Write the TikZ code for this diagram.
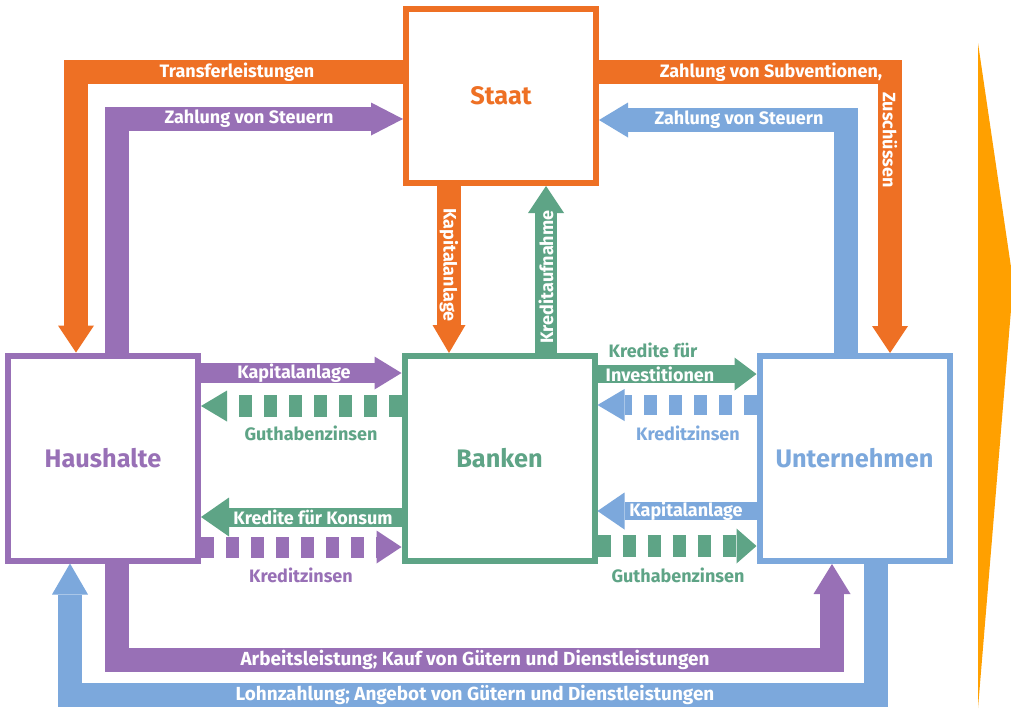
\documentclass[tikz,border=0pt]{standalone}
\usepackage{fontspec}
\setmainfont{Fira Sans}
\usetikzlibrary{arrows.meta}
\definecolor{cOr}{RGB}{238,112,36}
\definecolor{cPu}{RGB}{152,112,182}
\definecolor{cGr}{RGB}{94,164,134}
\definecolor{cBl}{RGB}{124,168,220}
\definecolor{cWe}{RGB}{255,160,0}
\tikzset{
  box/.style={draw=#1, line width=4.5pt, minimum width=142.5pt, minimum height=153.75pt,
    inner sep=0pt, text=#1, font=\bfseries\fontsize{19}{22}\selectfont},
  lbl/.style={text=white, inner sep=0pt, font=\bfseries\fontsize{13.5}{16}\selectfont},
  blbl/.style={text=white, inner sep=0pt, font=\bfseries\fontsize{14.2}{16}\selectfont},
  clbl/.style={text=#1, inner sep=0pt, font=\bfseries\fontsize{13.5}{16}\selectfont},
  fl/.style n args={4}{draw=#1, line width=#2, line join=miter,
    -{Triangle[width=#3,length=#4,line width=0pt]}},
  dfl/.style n args={4}{fl={#1}{#2}{#3}{#4}, dash pattern=on 9.75pt off 9pt},
}
\begin{document}
\begin{tikzpicture}[x=0.75pt,y=-0.75pt]
\fill[white] (0,0) rectangle (1011,708);
\useasboundingbox (0,0) rectangle (1011,708);

% boxes
\node[box=cOr, minimum height=130.5pt] (staat) at (501,96) {Staat};
\node[box=cPu] (haus) at (103,458) {Haushalte};
\node[box=cGr] (bank) at (499.5,458.5) {Banken};
\node[box=cBl] (unt) at (854.5,458.5) {Unternehmen};

% top flows
\draw[fl={cOr}{18pt}{27pt}{20.25pt}] (staat.west |- 0,72) -- (76,72) -- (haus.north -| 76,0);
\draw[fl={cPu}{18pt}{24.75pt}{24pt}] (haus.north -| 117,0) -- (117,119) -- (staat.west |- 0,119);
\draw[fl={cOr}{18pt}{27pt}{20.25pt}] (staat.east |- 0,72) -- (890,72) -- (unt.north -| 890,0);
\draw[fl={cBl}{18pt}{26.25pt}{21.75pt}] (unt.north -| 846,0) -- (846,120) -- (staat.east |- 0,120);

% staat <-> banken
\draw[fl={cOr}{18pt}{24.75pt}{21pt}] (staat.south -| 449,0) -- (bank.north -| 449,0);
\draw[fl={cGr}{16.5pt}{27pt}{20.25pt}] (bank.north -| 546,0) -- (staat.south -| 546,0);

% haushalte <-> banken
\draw[fl={cPu}{15pt}{24.75pt}{20.25pt}] (haus.east |- 0,373) -- (bank.west |- 0,373);
\draw[dfl={cGr}{16.5pt}{23.25pt}{19.5pt}] (bank.west |- 0,406) -- (haus.east |- 0,406);
\draw[fl={cGr}{14.25pt}{29.25pt}{21pt}] (bank.west |- 0,517) -- (haus.east |- 0,517);
\draw[dfl={cPu}{15.75pt}{24.75pt}{18.75pt}] (haus.east |- 0,547) -- (bank.west |- 0,547);

% banken <-> unternehmen
\draw[fl={cGr}{13.5pt}{24.75pt}{16.5pt}] (bank.east |- 0,374) -- (unt.west |- 0,374);
\draw[dfl={cBl}{15pt}{24pt}{20.25pt}] (unt.west |- 0,405) -- (bank.east |- 0,405);
\draw[fl={cBl}{13.5pt}{27.75pt}{20.25pt}] (unt.west |- 0,511) -- (bank.east |- 0,511);
\draw[dfl={cGr}{16.5pt}{26.25pt}{15pt}] (bank.east |- 0,546) -- (unt.west |- 0,546);

% bottom flows
\draw[fl={cPu}{18pt}{27.75pt}{22.5pt}] (haus.south -| 117,0) -- (117,660) -- (832,660) -- (unt.south -| 832,0);
\draw[fl={cBl}{18pt}{27pt}{23.25pt}] (unt.south -| 876,0) -- (876,695) -- (70,695) -- (haus.south -| 70,0);

% labels on flows
\node[lbl] (t1) at (237,72) {Transferleistungen};
\node[lbl] (t2) at (249,119) {Zahlung von Steuern};
\node[lbl] (t3) at (771,72) {Zahlung von Subventionen,};
\node[lbl, rotate=-90] (t4) at (890,140) {Zuschüssen};
\node[lbl] (t5) at (739,120) {Zahlung von Steuern};
\node[lbl, rotate=-90] (t6) at (449,265) {Kapitalanlage};
\node[lbl, rotate=90] (t7) at (546,277) {Kreditaufnahme};
\node[lbl] (t8) at (294,373) {Kapitalanlage};
\node[clbl=cGr] (t9) at (311,433) {Guthabenzinsen};
\node[lbl] (t10) at (313,517) {Kredite für Konsum};
\node[clbl=cPu] (t11) at (301,575) {Kreditzinsen};
\node[clbl=cGr] (t12) at (653,350) {Kredite für};
\node[lbl] (t13) at (660,374) {Investitionen};
\node[clbl=cBl] (t14) at (688,433) {Kreditzinsen};
\node[lbl] (t15) at (686,511) {Kapitalanlage};
\node[clbl=cGr] (t16) at (678,575) {Guthabenzinsen};
\node[blbl] (t17) at (475,660) {Arbeitsleistung; Kauf von Gütern und Dienstleistungen};
\node[blbl] (t18) at (475,695) {Lohnzahlung; Angebot von Gütern und Dienstleistungen};

% orange wedge on the right
\fill[cWe] (978,43) -- (1011,267) -- (1011,310) -- (978,708) -- cycle;
\end{tikzpicture}
\end{document}
